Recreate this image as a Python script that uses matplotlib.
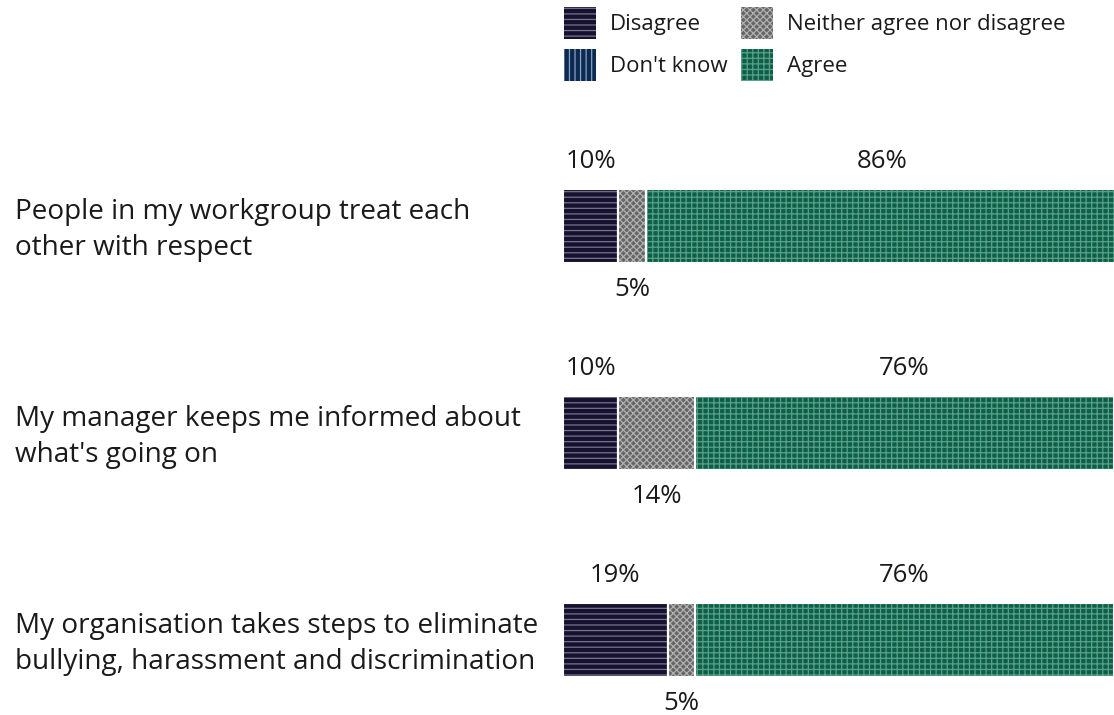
import matplotlib
matplotlib.use('Agg')
import matplotlib.pyplot as plt
import matplotlib.patches as mpatches
import matplotlib.transforms as mtransforms

plt.rcParams['font.family'] = ['Open Sans', 'DejaVu Sans']
plt.rcParams['hatch.linewidth'] = 0.9

# data
questions = [
    "People in my workgroup treat each\nother with respect",
    "My manager keeps me informed about\nwhat's going on",
    "My organisation takes steps to eliminate\nbullying, harassment and discrimination",
]
categories = ["Disagree", "Don't know", "Neither agree nor disagree", "Agree"]
disagree = [10, 10, 19]
dont_know = [0, 0, 0]
neither = [5, 14, 5]
agree = [86, 76, 76]

TEXT = '#1a1a1a'

# styles: face colour, hatch colour, hatch
styles = {
    "Disagree": ("#15112e", "#77748c", "---"),
    "Don't know": ("#0b2a52", "#8ea2bf", "|||"),
    "Neither agree nor disagree": ("#666666", "#b0b0b0", "xxxxx"),
    "Agree": ("#0b6148", "#5e9e88", "+++"),
}

fig = plt.figure(figsize=(11.14, 7.15), dpi=100)
ax = fig.add_axes([563 / 1114, 0, 1 - 563 / 1114, 1 - 100 / 715])
ax.set_xlim(0, 100)
ax.set_ylim(2.362, -0.609)
ax.axis('off')

rows = list(range(len(questions)))
bar_h = 0.36
series = [disagree, dont_know, neither, agree]
left = [0] * len(rows)
for name, vals in zip(categories, series):
    fc, hc, hatch = styles[name]
    ax.barh(rows, vals, left=left, height=bar_h, color=fc, edgecolor=hc,
            hatch=hatch, linewidth=0)
    ax.barh(rows, vals, left=left, height=bar_h, facecolor='none',
            edgecolor='white', linewidth=1.5)
    left = [l + v for l, v in zip(left, vals)]

# value labels
for i in rows:
    d, n, a = disagree[i], neither[i], agree[i]
    ax.text(d / 2, i - 0.31, f'{d}%', ha='center', va='center', fontsize=18.5,
            color=TEXT)
    ax.text(d + n / 2, i + 0.305, f'{n}%', ha='center', va='center',
            fontsize=18.5, color=TEXT)
    ax.text(d + n + a / 2, i - 0.31, f'{a}%', ha='center', va='center',
            fontsize=18.5, color=TEXT)

# question labels
trans = mtransforms.blended_transform_factory(fig.transFigure, ax.transData)
for i, q in enumerate(questions):
    ax.text(15 / 1114, i + 0.02, q, transform=trans, ha='left', va='center',
            fontsize=20.1, color=TEXT, linespacing=1.36)

handles = []
for name in categories:
    fc, hc, hatch = styles[name]
    handles.append(mpatches.Patch(facecolor=fc, edgecolor=hc, hatch=hatch,
                                  linewidth=0, label=name))
fig.legend(handles=handles, ncol=2, loc='upper left',
           bbox_to_anchor=(548 / 1114, 1.0126), frameon=False, fontsize=16,
           handlelength=1.44, handleheight=1.84, handletextpad=0.65,
           columnspacing=0.6, labelspacing=0.45, borderaxespad=0.3,
           labelcolor=TEXT)

fig.savefig('out.png', dpi=100, facecolor='white')
